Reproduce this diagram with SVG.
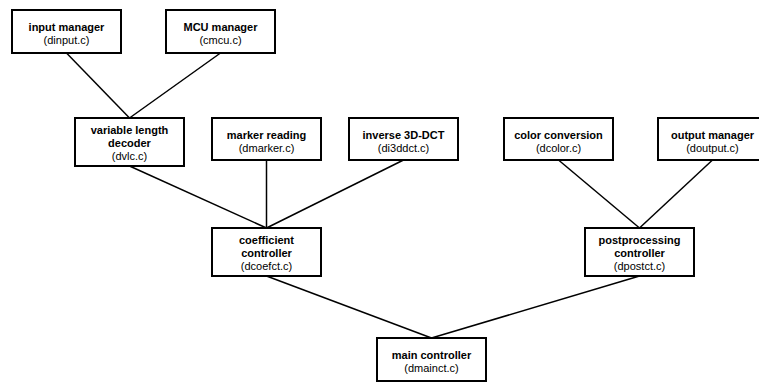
<svg xmlns="http://www.w3.org/2000/svg" width="759" height="382" viewBox="0 0 759 382">
  <style>
    .box { fill: #fff; stroke: #000; stroke-width: 2; }
    .link { stroke: #000; stroke-width: 1.5; fill: none; }
    text { font-family: "Liberation Sans", Arial, sans-serif; font-size: 11px; text-anchor: middle; fill: #000; }
    .t { font-weight: bold; }
  </style>
  <rect width="759" height="382" fill="#fff"/>

  <!-- connectors: bottom centre of child to top centre of parent -->
  <g id="connectors">
    <line class="link" x1="66.5" y1="53" x2="129.5" y2="118"/>
    <line class="link" x1="220.5" y1="53" x2="129.5" y2="118"/>
    <line class="link" x1="129.5" y1="166" x2="266.5" y2="228"/>
    <line class="link" x1="266.5" y1="160" x2="266.5" y2="228"/>
    <line class="link" x1="403.5" y1="160" x2="266.5" y2="228"/>
    <line class="link" x1="558.5" y1="160" x2="639.5" y2="228"/>
    <line class="link" x1="712.5" y1="160" x2="639.5" y2="228"/>
    <line class="link" x1="266.5" y1="276" x2="431.5" y2="338"/>
    <line class="link" x1="639.5" y1="276" x2="431.5" y2="338"/>
  </g>

  <g id="input-manager">
    <rect class="box" x="12" y="10" width="109" height="43"/>
    <text class="t" x="66.5" y="31">input manager</text>
    <text x="66.5" y="44">(dinput.c)</text>
  </g>
  <g id="mcu-manager">
    <rect class="box" x="166" y="10" width="109" height="43"/>
    <text class="t" x="220.5" y="31">MCU manager</text>
    <text x="220.5" y="44">(cmcu.c)</text>
  </g>

  <g id="vlc-decoder">
    <rect class="box" x="75" y="118" width="109" height="48"/>
    <text class="t" x="129.5" y="134">variable length</text>
    <text class="t" x="129.5" y="147">decoder</text>
    <text x="129.5" y="160">(dvlc.c)</text>
  </g>
  <g id="marker-reading">
    <rect class="box" x="212" y="118" width="109" height="42"/>
    <text class="t" x="266.5" y="139">marker reading</text>
    <text x="266.5" y="152">(dmarker.c)</text>
  </g>
  <g id="inverse-dct">
    <rect class="box" x="349" y="118" width="109" height="42"/>
    <text class="t" x="403.5" y="139">inverse 3D-DCT</text>
    <text x="403.5" y="152">(di3ddct.c)</text>
  </g>
  <g id="color-conversion">
    <rect class="box" x="504" y="118" width="109" height="42"/>
    <text class="t" x="558.5" y="139">color conversion</text>
    <text x="558.5" y="152">(dcolor.c)</text>
  </g>
  <g id="output-manager">
    <rect class="box" x="658" y="118" width="109" height="42"/>
    <text class="t" x="712.5" y="139">output manager</text>
    <text x="712.5" y="152">(doutput.c)</text>
  </g>

  <g id="coefficient-controller">
    <rect class="box" x="212" y="228" width="109" height="48"/>
    <text class="t" x="266.5" y="244">coefficient</text>
    <text class="t" x="266.5" y="257">controller</text>
    <text x="266.5" y="270">(dcoefct.c)</text>
  </g>
  <g id="postprocessing-controller">
    <rect class="box" x="585" y="228" width="109" height="48"/>
    <text class="t" x="639.5" y="244">postprocessing</text>
    <text class="t" x="639.5" y="257">controller</text>
    <text x="639.5" y="270">(dpostct.c)</text>
  </g>

  <g id="main-controller">
    <rect class="box" x="377" y="338" width="109" height="43"/>
    <text class="t" x="431.5" y="359">main controller</text>
    <text x="431.5" y="372">(dmainct.c)</text>
  </g>
</svg>
